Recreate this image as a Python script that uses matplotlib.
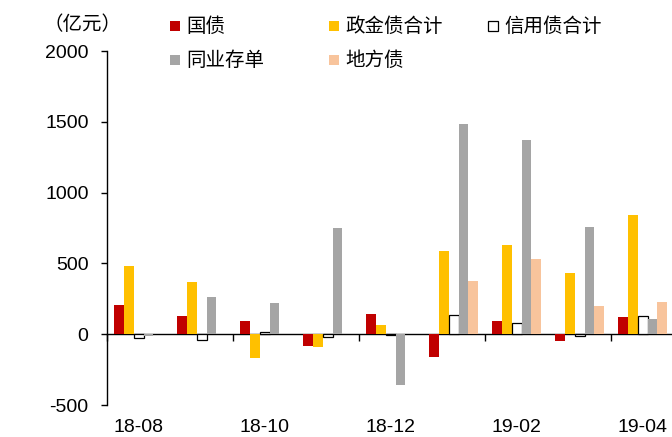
import matplotlib
matplotlib.use("Agg")
import matplotlib.pyplot as plt
from matplotlib.patches import Rectangle
import numpy as np

# Monthly net financing by bond type (unit: 100 million yuan)
months = ['18-08', '18-09', '18-10', '18-11', '18-12', '19-01', '19-02', '19-03', '19-04']
guozhai = [206, 128, 90, -83, 140, -161, 95, -45, 121]          # 国债
zhengjin = [484, 371, -165, -92, 62, 586, 629, 432, 839]        # 政金债合计
xinyong = [-24, -38, 14, -20, -9, 135, 76, -10, 132]            # 信用债合计
tongye = [-10, 260, 220, 752, -362, 1487, 1373, 759, 104]       # 同业存单
difang = [0, 0, 0, 0, 0, 374, 532, 199, 229]                    # 地方债

series_names = ['国债', '政金债合计', '信用债合计', '同业存单', '地方债']
series_vals = [guozhai, zhengjin, xinyong, tongye, difang]
face_colors = ['#C00000', '#FFC000', '#FFFFFF', '#A5A5A5', '#F8C49C']
edge_colors = ['none', 'none', '#000000', 'none', 'none']

y_ticks = [-500, 0, 500, 1000, 1500, 2000]
y_labels = ['-500', '0', '500', '1000', '1500', '2000']

W, H = 672, 437
fig = plt.figure(figsize=(W / 100, H / 100), dpi=100)

# axes frame in pixel coordinates
left_px, right_px = 107.3, 674.3
top_px, bottom_px = 51.0, 405.0
ax = fig.add_axes([left_px / W, 1 - bottom_px / H,
                   (right_px - left_px) / W, (bottom_px - top_px) / H])

x = np.arange(len(months))
bw = 0.155
for k, (vals, fc, ec) in enumerate(zip(series_vals, face_colors, edge_colors)):
    lw = 0.9 if ec != 'none' else 0
    ax.bar(x + (k - 2) * bw, vals, width=bw, color=fc, edgecolor=ec,
           linewidth=lw, zorder=2)

ax.set_xlim(-0.5, len(months) - 0.5)
ax.set_ylim(-500, 2000)

# y axis
ax.set_yticks(y_ticks, y_labels, fontfamily='Liberation Sans', fontsize=14)
ax.tick_params(axis='y', direction='out', length=4, width=1, pad=9.5)
for s in ['top', 'right', 'bottom']:
    ax.spines[s].set_visible(False)
ax.spines['left'].set_linewidth(1.0)

# month labels along the bottom
ax.set_xticks(x[::2], months[::2], fontfamily='Liberation Sans', fontsize=14)
ax.tick_params(axis='x', length=0, pad=10)

# zero line carrying the group boundary ticks
zero_frac = (0 - (-500)) / 2500
sec = ax.secondary_xaxis(zero_frac)
sec.set_xticks(np.arange(-0.5, len(months), 2), [''] * 5)
sec.tick_params(axis='x', direction='out', length=5, width=1)
sec.spines['bottom'].set_linewidth(1.0)
sec.spines['bottom'].set_zorder(3)

# unit label
fig.text(82.5 / W, 1 - 24 / H, '（亿元）', fontfamily=['Noto Sans CJK SC', 'DejaVu Sans'],
         fontsize=14, ha='center', va='center')

# legend
legend_pos = [(170, 26), (329, 26), (488, 26), (170, 60), (329, 60)]
for name, fc, ec, (lx, ly) in zip(series_names, face_colors, edge_colors, legend_pos):
    sq = 10
    rect = Rectangle((lx / W, 1 - (ly + sq / 2) / H), sq / W, sq / H,
                     transform=fig.transFigure, facecolor=fc,
                     edgecolor=('#000000' if ec != 'none' else 'none'),
                     linewidth=0.9)
    fig.add_artist(rect)
    fig.text((lx + 16) / W, 1 - ly / H, name,
             fontfamily=['Noto Sans CJK SC', 'DejaVu Sans'], fontsize=14,
             ha='left', va='center')

fig.savefig('out.png', dpi=100)
